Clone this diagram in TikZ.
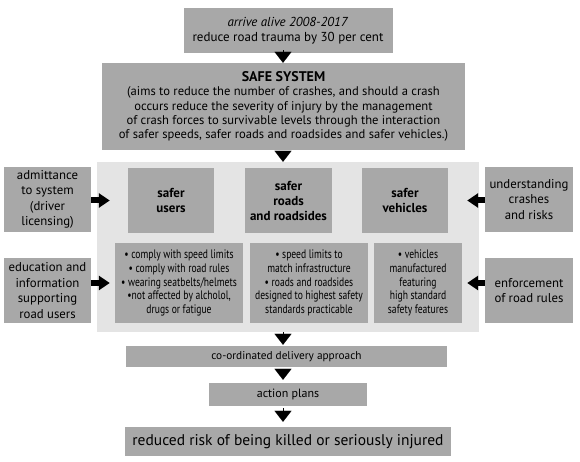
\documentclass[tikz,border=0pt]{standalone}
\usepackage{fontspec}
\setmainfont{PT Sans}
\newfontfamily\narrowfont[FakeStretch=0.78]{PT Sans}
\usetikzlibrary{arrows.meta}
\definecolor{boxgrey}{HTML}{A8A8A8}
\definecolor{panelgrey}{HTML}{E4E4E4}
\begin{document}
\begin{tikzpicture}[
    x=1pt, y=-1pt,
    greybox/.style = {rectangle, fill=boxgrey, align=center, inner sep=0pt, font=\fontsize{12}{14.3}\selectfont},
    titlebox/.style = {greybox, font=\fontsize{13}{15}\selectfont\bfseries},
    bulletbox/.style = {greybox, font=\narrowfont\fontsize{12.3}{13.7}\selectfont},
    sidebox/.style = {greybox, minimum width=87pt, minimum height=65pt, font=\fontsize{12.8}{15.5}\selectfont},
    downarrow/.style = {-{Triangle[width=17pt,length=11pt]}, line width=0.1pt},
    sidearrow/.style = {-{Triangle[width=14pt,length=11pt]}, line width=6pt}
  ]
  \useasboundingbox (0,0) rectangle (580,462);
  \coordinate (axis) at (283,0);
  % top of the hierarchy
  \node[greybox, minimum width=209pt, minimum height=45pt, font=\fontsize{13}{15}\selectfont] (target) at (288,30.5)
    {\textit{arrive alive 2008-2017}\\reduce road trauma by 30 per cent};
  \node[greybox, minimum width=363pt, minimum height=87pt, font=\fontsize{12.6}{14.3}\selectfont] (safesys) at (283.5,106.5)
    {{\fontsize{14}{15}\selectfont\textbf{SAFE SYSTEM}}\\(aims to reduce the number of crashes, and should a crash\\
     occurs reduce the severity of injury by the management\\
     of crash forces to survivable levels through the interaction\\
     of safer speeds, safer roads and roadsides and safer vehicles.)};
  % central panel
  \node[fill=panelgrey, minimum width=382pt, minimum height=170pt, inner sep=0pt] (panel) at (288,247) {};
  \node[titlebox, minimum width=86pt, minimum height=65pt] (users) at (171,200.5) {safer\\users};
  \node[titlebox, minimum width=87pt, minimum height=65pt] (roads) at (288.5,200.5) {safer\\roads\\and roadsides};
  \node[titlebox, minimum width=86pt, minimum height=65pt] (vehicles) at (405,200.5) {safer\\vehicles};
  \node[bulletbox, minimum width=128pt, minimum height=80pt] (userlist) at (179,283)
    {\textbullet{} comply with speed limits\\\textbullet{} comply with road rules\\
     \textbullet{} wearing seatbelts/helmets\\\textbullet not affected by alcholol,\\drugs or fatigue};
  \node[bulletbox, minimum width=118pt, minimum height=80pt] (roadlist) at (309,283)
    {\textbullet{} speed limits to\\match infrastructure\\\textbullet{} roads and roadsides\\
     designed to highest safety\\standards practicable};
  \node[bulletbox, minimum width=88pt, minimum height=80pt] (vehiclelist) at (418,283)
    {\textbullet{} vehicles\\manufactured\\featuring\\high standard\\safety features};
  % inputs at the sides
  \node[sidebox] (licensing) at (47.5,199.5) {admittance\\to system\\(driver\\licensing)};
  \node[sidebox] (education) at (47.5,290.5) {education and\\information\\supporting\\road users};
  \node[sidebox, minimum width=88pt] (crashes) at (529,199.5) {understanding\\crashes\\and risks};
  \node[sidebox, minimum width=88pt] (enforce) at (529,290.5) {enforcement\\of road rules};
  % delivery
  \node[greybox, minimum width=321pt, minimum height=21pt, font=\fontsize{11.3}{13}\selectfont] (delivery) at (286.5,356.5) {co-ordinated delivery approach};
  \node[greybox, minimum width=158pt, minimum height=23pt] (plans) at (288,394.5) {action plans};
  \node[greybox, minimum width=326pt, minimum height=29pt, font=\fontsize{15.5}{17}\selectfont] (outcome) at (288,441.5)
    {reduced risk of being killed or seriously injured};
  % connectors
  \draw[downarrow, shorten <=3pt, shorten >=0pt] (target.south -| axis) -- (safesys.north -| axis);
  \draw[downarrow, shorten <=2pt] (safesys.south -| axis) -- (panel.north -| axis);
  \draw[downarrow, shorten >=1pt] (panel.south -| axis) -- (delivery.north -| axis);
  \draw[downarrow, shorten <=2pt, shorten >=3pt] (delivery.south -| axis) -- (plans.north -| axis);
  \draw[downarrow, shorten <=2pt, shorten >=5pt] (plans.south -| axis) -- (outcome.north -| axis);
  \draw[sidearrow, shorten >=18pt] (licensing.east |- users) -- (users.west);
  \draw[sidearrow, shorten >=5pt] (education.east |- userlist) -- (userlist.west);
  \draw[sidearrow, shorten >=19pt] (crashes.west |- vehicles) -- (vehicles.east);
  \draw[sidearrow, shorten >=5pt] (enforce.west |- vehiclelist) -- (vehiclelist.east);
\end{tikzpicture}
\end{document}
